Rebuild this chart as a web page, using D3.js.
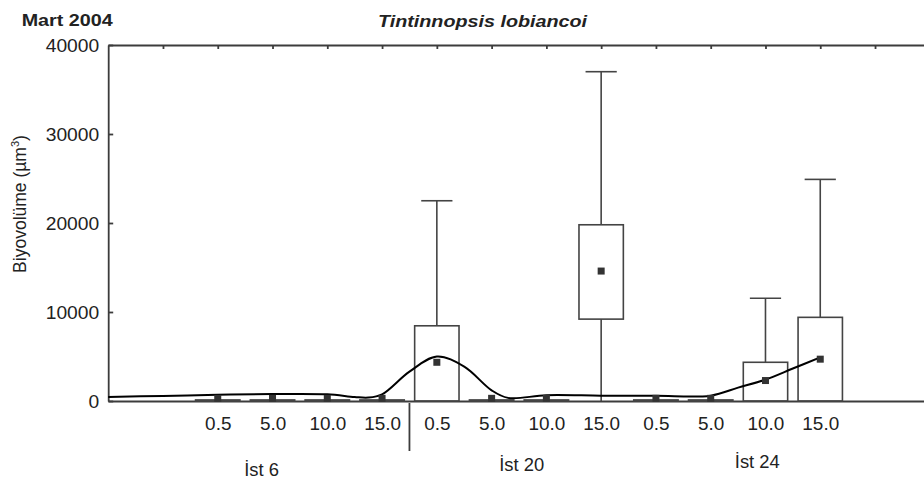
<!DOCTYPE html>
<html>
  <head>
    <title>Tintinnopsis lobiancoi - Mart 2004</title>
    <script src="https://cdn.jsdelivr.net/npm/d3@7/dist/d3.min.js"></script>
    <style>
      body { margin: 0; background: #fff; }
      svg text { font-family: "Liberation Sans", Arial, sans-serif; fill: #222; }
      .axis path, .axis line { stroke: #3c3c3c; stroke-width: 1.8px; }
    </style>
  </head>
  <body>
    <svg id="chart" width="924" height="485"></svg>
    <script>
    // values
    var stations = ["İst 6", "İst 20", "İst 24"];
    var depths = ["0.5", "5.0", "10.0", "15.0"];
    var yTicks = [0, 10000, 20000, 30000, 40000];

    // one entry per station/depth, in order İst 6 .. İst 24
    var boxLow      = [0, 0, 0, 0,      0, 0, 0, 9200,       0, 0, 0, 0];
    var boxHigh     = [120, 120, 120, 120, 8450, 120, 120, 19800, 120, 120, 4350, 9400];
    var whiskerLow  = [0, 0, 0, 0,      0, 0, 0, 0,          0, 0, 0, 0];
    var whiskerHigh = [120, 120, 120, 120, 22500, 120, 120, 37000, 120, 120, 11550, 24900];
    var means       = [300, 300, 300, 300, 4350, 300, 300, 14600, 300, 300, 2300, 4700];

    // smoothed line (x in category slots, 0 = left axis)
    var smoothX = [0, 1, 2, 3, 4, 4.5, 4.75, 5, 5.5, 6, 6.5, 7, 7.3, 8, 9, 10, 11, 11.5, 12, 12.5, 13];
    var smoothY = [450, 570, 700, 780, 750, 450, 380, 750, 3300, 5000, 3860, 1200, 350, 650, 600, 580, 600, 1500, 2400, 3650, 4900];

    var svg = d3.select("#chart");

    var x = d3.scaleLinear().domain([0, 15]).range([108.2, 929.8]);
    var y = d3.scaleLinear().domain([0, 40000]).range([401, 45]);

    // stretch text a bit wider, the scan is wider than plain Arial
    function stretch(sel, k) {
      sel.each(function() {
        var w = this.getComputedTextLength();
        d3.select(this).attr("textLength", w * k).attr("lengthAdjust", "spacingAndGlyphs");
      });
    }

    var cats = [];
    stations.forEach(function(s, i) {
      depths.forEach(function(d, j) {
        cats.push({ station: s, depth: d, pos: 2 + i * 4 + j });
      });
    });

    // axes
    var yAxis = d3.axisLeft(y).tickValues(yTicks).tickFormat(d3.format("d"))
      .tickSizeInner(-5).tickSizeOuter(0).tickPadding(9);
    var gy = svg.append("g").attr("class", "axis").attr("transform", "translate(" + x(0) + ",0)").call(yAxis);
    gy.selectAll("text").style("font-size", "17.5px").attr("dy", "0.36em");
    stretch(gy.selectAll("text"), 1.1);

    var topAxis = d3.axisTop(x).tickValues(d3.range(1, 15)).tickSizeInner(-4).tickSizeOuter(0).tickFormat("");
    svg.append("g").attr("class", "axis").attr("transform", "translate(0," + y(40000) + ")").call(topAxis);

    var xAxis = d3.axisBottom(x)
      .tickValues(cats.map(function(c) { return c.pos; }))
      .tickFormat(function(d, i) { return cats[i].depth; })
      .tickSize(0).tickPadding(17);
    var gx = svg.append("g").attr("class", "axis").attr("transform", "translate(0," + y(0) + ")").call(xAxis);
    gx.selectAll("text").style("font-size", "17.5px").attr("dy", "0.71em");
    stretch(gx.selectAll("text"), 1.08);

    // divider between İst 6 and İst 20
    svg.append("line")
      .attr("x1", x(5.5)).attr("x2", x(5.5))
      .attr("y1", y(0) + 2).attr("y2", y(0) + 50)
      .attr("stroke", "#3c3c3c").attr("stroke-width", 1.8);

    // station labels
    var stationPos = [2.8, 7.55, 11.85];
    var stationBase = [476, 471, 468];
    svg.selectAll(".station")
      .data(stations)
      .join("text")
      .attr("class", "station")
      .attr("x", function(d, i) { return x(stationPos[i]); })
      .attr("y", function(d, i) { return stationBase[i]; })
      .attr("text-anchor", "middle")
      .style("font-size", "17.5px")
      .text(function(d) { return d; })
      .call(stretch, 1.05);

    // boxes
    var bw = 0.81, cw = 0.57;
    var boxes = svg.append("g");
    cats.forEach(function(c, i) {
      var g = boxes.append("g");
      var half = (x(bw) - x(0)) / 2;
      var ch = (x(cw) - x(0)) / 2;
      if (whiskerHigh[i] > boxHigh[i]) {
        g.append("line").attr("x1", x(c.pos)).attr("x2", x(c.pos))
          .attr("y1", y(boxHigh[i])).attr("y2", y(whiskerHigh[i]))
          .attr("stroke", "#444").attr("stroke-width", 1.6);
        g.append("line").attr("x1", x(c.pos) - ch).attr("x2", x(c.pos) + ch)
          .attr("y1", y(whiskerHigh[i])).attr("y2", y(whiskerHigh[i]))
          .attr("stroke", "#444").attr("stroke-width", 1.6);
      }
      if (boxLow[i] > whiskerLow[i]) {
        g.append("line").attr("x1", x(c.pos)).attr("x2", x(c.pos))
          .attr("y1", y(boxLow[i])).attr("y2", y(whiskerLow[i]))
          .attr("stroke", "#444").attr("stroke-width", 1.6);
      }
      g.append("rect")
        .attr("x", x(c.pos) - half)
        .attr("width", half * 2)
        .attr("y", y(boxHigh[i]))
        .attr("height", Math.max(y(boxLow[i]) - y(boxHigh[i]), 0.5))
        .attr("fill", "none")
        .attr("stroke", "#444").attr("stroke-width", 1.6);
    });

    // smoothed line
    var line = d3.line()
      .x(function(d, i) { return x(smoothX[i]); })
      .y(function(d) { return y(d); })
      .curve(d3.curveCatmullRom.alpha(0.5));
    svg.append("path")
      .attr("d", line(smoothY))
      .attr("fill", "none")
      .attr("stroke", "#000")
      .attr("stroke-width", 2);

    // means
    svg.selectAll(".mean")
      .data(means)
      .join("rect")
      .attr("class", "mean")
      .attr("x", function(d, i) { return x(cats[i].pos) - 3.5; })
      .attr("y", function(d) { return y(d) - 3.5; })
      .attr("width", 7).attr("height", 7)
      .attr("fill", "#333");

    // titles
    svg.append("text")
      .attr("x", 21.7).attr("y", 26)
      .style("font-size", "16.5px").style("font-weight", "bold")
      .text("Mart 2004")
      .attr("textLength", 91).attr("lengthAdjust", "spacingAndGlyphs");

    svg.append("text")
      .attr("x", 378).attr("y", 26.5)
      .style("font-size", "16px").style("font-weight", "bold").style("font-style", "italic")
      .text("Tintinnopsis lobiancoi")
      .attr("textLength", 209).attr("lengthAdjust", "spacingAndGlyphs");

    var ylab = svg.append("text")
      .attr("transform", "translate(26,204) rotate(-90)")
      .attr("text-anchor", "middle")
      .style("font-size", "17.5px");
    ylab.append("tspan").text("Biyovolüme (µm");
    ylab.append("tspan").attr("dy", -7).style("font-size", "11px").text("3");
    ylab.append("tspan").attr("dy", 7).text(")");
    </script>
  </body>
</html>
